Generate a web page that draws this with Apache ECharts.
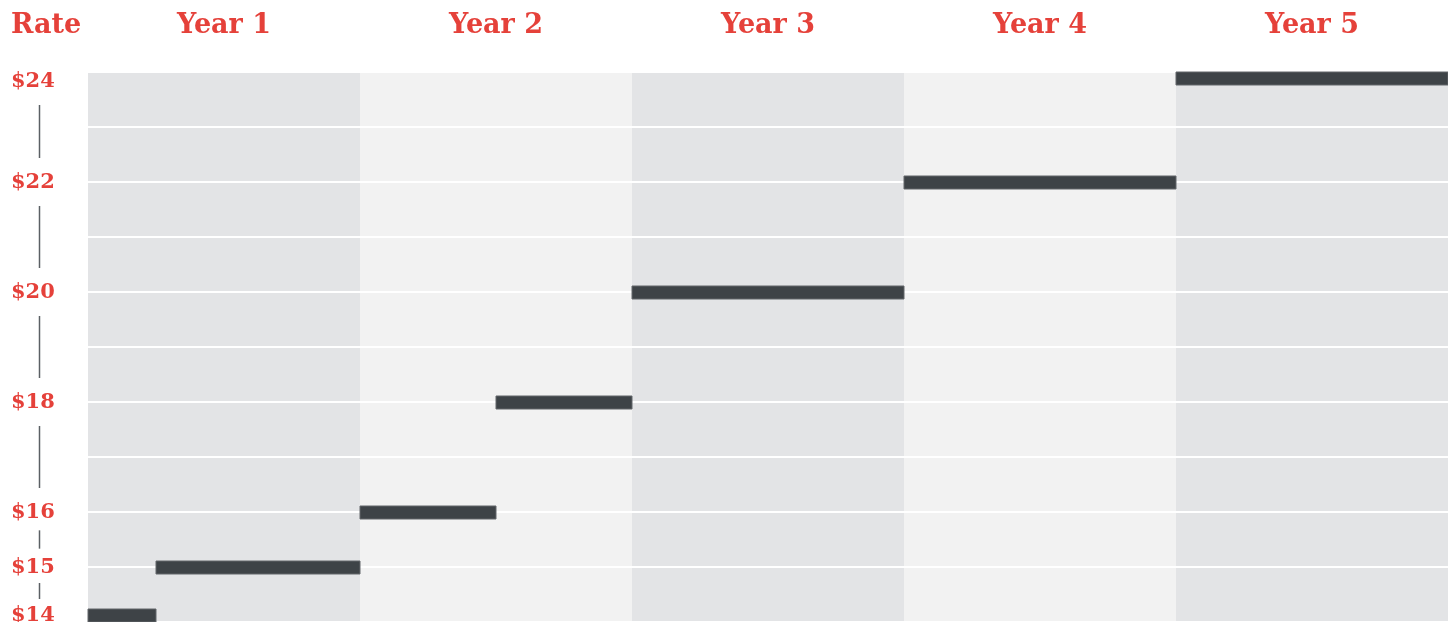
<!DOCTYPE html>
<html>
<head>
<meta charset="utf-8">
<script src="https://cdn.jsdelivr.net/npm/echarts@6/dist/echarts.min.js"></script>
<style>
html,body{margin:0;padding:0;background:#fff;}
#chart{width:1448px;height:622px;}
</style>
</head>
<body>
<div id="chart"></div>
<script>
const axisTitle = 'Rate';
const years = ['Year 1', 'Year 2', 'Year 3', 'Year 4', 'Year 5'];
const monthsPerYear = 12;
const stepStart = [0, 3, 12, 18, 24, 36, 48];
const stepEnd = [3, 12, 18, 24, 36, 48, 60];
const stepRate = [14, 15, 16, 18, 20, 22, 24];
const rateTicks = [24, 22, 20, 18, 16, 15, 14];
const rateMin = 14;
const rateMax = 24;

const RED = '#e5413a';
const FONT = '"DejaVu Serif", serif';
const chart = echarts.init(document.getElementById('chart'), null, {renderer: 'canvas'});

function gridRect(api) {
  const tl = api.coord([0, rateMax]);
  const br = api.coord([years.length * monthsPerYear, rateMin]);
  return {x0: tl[0], y0: tl[1], x1: br[0], y1: br[1]};
}

const bandData = years.map((y, i) => [i * monthsPerYear, (i + 1) * monthsPerYear, i]);
const stepData = stepRate.map((r, i) => [stepStart[i], stepEnd[i], r]);
const tickData = rateTicks.map((r, i) => [i, r]);

const option = {
  animation: false,
  grid: {left: 88, right: 0, top: 72, bottom: 0},
  xAxis: {type: 'value', min: 0, max: years.length * monthsPerYear, show: false},
  yAxis: {
    type: 'value', min: rateMin, max: rateMax, interval: 1, z: 1,
    axisLabel: {show: false}, axisLine: {show: false}, axisTick: {show: false},
    splitLine: {show: true, lineStyle: {color: '#ffffff', width: 2}}
  },
  series: [
    {
      type: 'custom', z: -1, silent: true,
      data: bandData,
      renderItem: function (params, api) {
        const a = api.coord([api.value(0), rateMax]);
        const b = api.coord([api.value(1), rateMin]);
        const idx = api.value(2);
        return {
          type: 'group',
          children: [
            {type: 'rect', shape: {x: a[0], y: a[1], width: b[0] - a[0], height: b[1] - a[1]},
             style: {fill: idx % 2 === 0 ? '#e3e4e6' : '#f2f2f2'}},
            {type: 'text', style: {text: years[idx], x: (a[0] + b[0]) / 2, y: 26,
              align: 'center', verticalAlign: 'middle', fill: RED,
              font: 'bold 27px ' + FONT}}
          ]
        };
      }
    },
    {
      type: 'custom', z: 3, silent: true,
      data: stepData,
      renderItem: function (params, api) {
        const g = gridRect(api);
        const a = api.coord([api.value(0), api.value(2)]);
        const b = api.coord([api.value(1), api.value(2)]);
        const h = 13;
        let top = a[1] - h / 2 + 0.5;
        top = Math.max(g.y0, Math.min(g.y1 - h, top));
        return {type: 'rect', shape: {x: a[0], y: top, width: b[0] - a[0], height: h},
          style: {fill: '#3e4347', stroke: '#62676b', lineWidth: 1}};
      }
    },
    {
      type: 'custom', z: 3, silent: true,
      data: tickData,
      renderItem: function (params, api) {
        const g = gridRect(api);
        const i = api.value(0);
        const clampY = (v) => {
          const y = api.coord([0, v])[1];
          return Math.max(g.y0 + 9, Math.min(g.y1 - 7, y));
        };
        const y = clampY(rateTicks[i]);
        const children = [
          {type: 'text', style: {text: '$' + rateTicks[i], x: 11, y: y + 1,
            align: 'left', verticalAlign: 'middle', fill: RED, font: 'bold 21px ' + FONT}}
        ];
        if (i === 0) {
          children.push({type: 'text', style: {text: axisTitle, x: 11, y: 26,
            align: 'left', verticalAlign: 'middle', fill: RED, font: 'bold 27px ' + FONT}});
        }
        if (i < rateTicks.length - 1) {
          const y2 = clampY(rateTicks[i + 1]);
          const gap = Math.min(24, (y2 - y) / 3);
          children.push({type: 'line', shape: {x1: 39.5, y1: y + gap, x2: 39.5, y2: y2 - gap},
            style: {stroke: '#5b6064', lineWidth: 1.5}});
        }
        return {type: 'group', children: children};
      }
    }
  ]
};
chart.setOption(option);
</script>
</body>
</html>
